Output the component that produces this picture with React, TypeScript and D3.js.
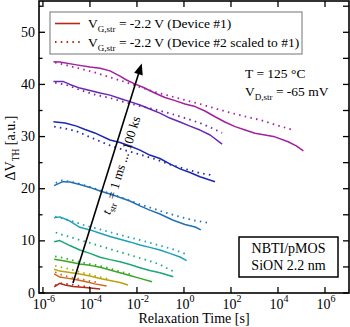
import React from "react";
import * as d3 from "d3";

type Pt = [number, number];

// relaxation time [s], ΔV_TH [a.u.]
const solid1: Pt[] = [[3e-6, 1.2], [5.2e-6, 1.85], [8.7e-6, 1.55], [1.9e-5, 1.25], [6.2e-5, 1.05], [2.7e-4, 0.75]];
const dotted1: Pt[] = [[3.3e-6, 1.45], [6.5e-6, 1.9], [1.4e-5, 1.65], [3.7e-5, 1.35], [1e-4, 1.15]];
const solid2: Pt[] = [[3e-6, 3.65], [5.2e-6, 3.05], [8.7e-6, 2.9], [2.1e-5, 2.65], [6.2e-5, 2.2], [1.6e-4, 1.75], [5.1e-4, 1.35]];
const dotted2: Pt[] = [[3.3e-6, 4.0], [6.5e-6, 3.45], [1.4e-5, 3.0], [3.7e-5, 2.7], [1e-4, 2.3], [2.7e-4, 1.9]];
const solid3: Pt[] = [[3e-6, 4.55], [5.2e-6, 4.2], [1.4e-5, 3.95], [3.7e-5, 3.65], [1e-4, 3.25], [2.7e-4, 2.8], [7.1e-4, 2.4], [1.9e-3, 2.0], [4.2e-3, 1.55]];
const dotted3: Pt[] = [[3.3e-6, 5.2], [6.5e-6, 4.9], [1.4e-5, 4.6], [3.7e-5, 4.0], [1e-4, 3.55], [2.7e-4, 3.05], [7.1e-4, 2.6]];
const solid4: Pt[] = [[3e-6, 6.45], [6.5e-6, 6.25], [1.4e-5, 5.95], [3.7e-5, 5.55], [1e-4, 5.3], [2.7e-4, 4.95], [7.1e-4, 4.4], [1.9e-3, 3.9], [5e-3, 3.35], [1.35e-2, 2.8], [4.4e-2, 2.15]];
const dotted4: Pt[] = [[3.3e-6, 7.0], [6.5e-6, 6.8], [1.4e-5, 6.4], [3.7e-5, 5.95], [1e-4, 5.55], [2.7e-4, 5.2], [7.1e-4, 4.7], [1.9e-3, 4.1], [5e-3, 3.65]];
const solid5: Pt[] = [[3e-6, 9.85], [5.2e-6, 10.05], [1.4e-5, 9.1], [3.7e-5, 8.25], [1e-4, 7.6], [2.7e-4, 6.85], [7.1e-4, 6.4], [1.9e-3, 6.0], [5e-3, 5.45], [1.35e-2, 4.85], [3.5e-2, 4.3], [9.5e-2, 3.9], [0.35, 3.1]];
const dotted5: Pt[] = [[3.5e-6, 11.6], [6.5e-6, 11.2], [1.4e-5, 10.75], [3.7e-5, 10.15], [1e-4, 9.6], [2.7e-4, 9.0], [7.1e-4, 8.45], [1.9e-3, 7.85], [5e-3, 7.3], [1.35e-2, 6.7], [3.5e-2, 6.15], [9.5e-2, 5.45], [0.2, 4.7], [0.42, 4.0]];
const solid6: Pt[] = [[3e-6, 14.45], [5.2e-6, 14.6], [1.4e-5, 13.8], [3.7e-5, 12.6], [1e-4, 12.1], [2.7e-4, 11.45], [7.1e-4, 10.85], [1.9e-3, 10.3], [5e-3, 9.8], [1.35e-2, 9.2], [3.5e-2, 8.75], [9.5e-2, 8.25], [0.25, 7.6], [0.68, 6.9], [1.3, 6.2]];
const dotted6: Pt[] = [[3.3e-6, 14.65], [8.7e-6, 14.2], [2.3e-5, 13.6], [6.2e-5, 12.95], [2.7e-4, 12.2], [1.2e-3, 11.4], [5e-3, 10.65], [2.2e-2, 9.9], [9.5e-2, 9.1], [0.42, 8.25], [1.35, 7.4]];
const solid7: Pt[] = [[3e-6, 20.6], [7e-6, 21.35], [1.4e-5, 21.3], [3.7e-5, 20.8], [1e-4, 20.25], [2.7e-4, 19.55], [7.1e-4, 19.0], [1.9e-3, 18.3], [5e-3, 17.65], [1.35e-2, 16.7], [3.5e-2, 15.9], [9.5e-2, 15.15], [0.33, 14.0], [1.1, 13.15], [3, 12.65], [5.2, 12.1]];
const dotted7: Pt[] = [[3.5e-6, 21.1], [6.5e-6, 21.6], [2.3e-5, 21.2], [1e-4, 20.35], [4.3e-4, 19.4], [1.9e-3, 18.4], [8e-3, 17.35], [3.5e-2, 16.4], [0.155, 15.45], [0.68, 14.6], [3, 13.9], [13, 13.4]];
const solid8: Pt[] = [[2.8e-6, 32.85], [8.7e-6, 32.6], [2.7e-5, 32.0], [6.2e-5, 31.35], [1.6e-4, 30.7], [7.1e-4, 29.35], [1.9e-3, 28.85], [5e-3, 28.2], [1.35e-2, 27.4], [3.5e-2, 26.45], [9.5e-2, 25.8], [0.25, 24.75], [0.68, 23.8], [1.8, 23.1], [4.8, 22.3], [21, 21.35]];
const dotted8: Pt[] = [[3e-6, 31.9], [8.7e-6, 31.55], [2.6e-5, 31.05], [1e-4, 29.9], [7.1e-4, 28.3], [3e-3, 27.4], [1.35e-2, 26.55], [5.7e-2, 25.7], [0.25, 24.65], [1.1, 23.8], [4.8, 23.0], [17, 22.55]];
const solid9: Pt[] = [[2.8e-6, 40.55], [7.5e-6, 40.55], [1.4e-5, 40.0], [3.7e-5, 39.3], [1e-4, 38.85], [2.7e-4, 38.35], [7.1e-4, 37.95], [1.9e-3, 37.3], [5e-3, 36.7], [1.35e-2, 36.05], [3.5e-2, 35.3], [9.5e-2, 34.5], [0.25, 33.55], [0.68, 32.8], [1.8, 32.0], [4.8, 31.25], [13, 30.3], [42, 28.55]];
const dotted9: Pt[] = [[3.3e-6, 40.3], [8.7e-6, 40.0], [3.7e-5, 38.95], [1.6e-4, 38.05], [7.1e-4, 37.4], [3e-3, 36.6], [1.35e-2, 35.85], [5.7e-2, 35.2], [0.25, 34.45], [1.1, 33.55], [4.8, 32.6], [15, 31.65], [42, 30.7]];
const solid10: Pt[] = [[2.8e-6, 44.35], [5.2e-6, 44.3], [2.7e-5, 43.75], [1e-4, 43.35], [2.7e-4, 43.1], [7.1e-4, 42.6], [1.9e-3, 41.6], [3.6e-3, 40.85], [8e-3, 40.1], [1.8e-2, 39.45], [5.7e-2, 38.35], [0.155, 37.5], [0.42, 36.9], [1.1, 36.25], [3, 35.75], [7.8, 34.9], [21, 33.8], [55, 32.8], [150, 31.9], [400, 31.25], [1050, 30.65], [2800, 30.3], [7400, 29.95], [27000, 29.0], [60000, 28.2], [120000, 27.25]];
const dotted10: Pt[] = [[3.3e-6, 44.2], [8.7e-6, 43.75], [2.3e-5, 43.25], [6.2e-5, 42.8], [1.6e-4, 42.3], [4.3e-4, 41.7], [1.2e-3, 41.05], [3e-3, 40.5], [1.35e-2, 39.5], [5.7e-2, 38.55], [0.25, 37.8], [1.1, 37.0], [4.8, 36.25], [21, 35.4], [90, 34.6], [400, 33.85], [1700, 33.2], [7400, 32.3], [44000, 31.25]];

const seriesColors = ["#b22a1a", "#c96a1e", "#b8a40c", "#3ba626", "#1aa872", "#1fa0b6", "#2070b8", "#1a28b0", "#6a28b0", "#a3209e"];
const solidSeries = [solid1, solid2, solid3, solid4, solid5, solid6, solid7, solid8, solid9, solid10];
const dottedSeries = [dotted1, dotted2, dotted3, dotted4, dotted5, dotted6, dotted7, dotted8, dotted9, dotted10];

const xTickExps = [-6, -4, -2, 0, 2, 4, 6];
const yMajorTicks = [0, 10, 20, 30, 40, 50];
const yMinorTicks = [5, 15, 25, 35, 45, 55];

const legendLabels = ["(Device #1)", "(Device #2 scaled to #1)"];
const arrowFrom: Pt = [1.9e-5, 1.9];
const arrowTo: Pt = [1.6e-2, 44];

const W = 350, H = 327;
const L = 39, R = 349, T = 1, B = 293;
const FONT = "Liberation Serif, Times New Roman, Times, serif";

export default function App() {
  const x = d3.scaleLog().domain([6.8e-7, 1.05e7]).range([L, R]);
  const y = d3.scaleLinear().domain([0, 56]).range([B, T]);
  const line = d3.line<Pt>().x(d => x(d[0])).y(d => y(d[1]));

  const ax0 = x(arrowFrom[0]), ay0 = y(arrowFrom[1]);
  const ax1 = x(arrowTo[0]), ay1 = y(arrowTo[1]);
  const len = Math.hypot(ax1 - ax0, ay1 - ay0);
  const ux = (ax1 - ax0) / len, uy = (ay1 - ay0) / len;
  const nx = -uy, ny = ux; // right-hand normal
  const headL = 11, headW = 4.5;
  const bx = ax1 - ux * headL, by = ay1 - uy * headL;
  const angle = (Math.atan2(uy, ux) * 180) / Math.PI;
  const tf = 0.33;
  const tx = ax0 + ux * len * tf + nx * 15, ty = ay0 + uy * len * tf + ny * 15;

  const txt = { fontFamily: FONT };

  return (
    <svg width={W} height={H} style={{ position: "absolute", left: 0, top: 0, background: "#fff", fontFamily: FONT }}>
      <rect x={0} y={0} width={W} height={H} fill="#fff" />
      {dottedSeries.map((s, i) => (
        <path key={"d" + i} d={line(s) || ""} fill="none" stroke={seriesColors[i]} strokeWidth={1.8} strokeDasharray="1.5,4.3" />
      ))}
      {solidSeries.map((s, i) => (
        <path key={"s" + i} d={line(s) || ""} fill="none" stroke={seriesColors[i]} strokeWidth={1.5} strokeLinejoin="round" />
      ))}
      <rect x={L} y={T} width={R - L} height={B - T} fill="none" stroke="#000" strokeWidth={1.6} />
      {xTickExps.map(e => {
        const px = x(Math.pow(10, e));
        return (
          <g key={"x" + e}>
            <line x1={px} x2={px} y1={B} y2={B - 6} stroke="#000" strokeWidth={1.3} />
            <line x1={px} x2={px} y1={T} y2={T + 6} stroke="#000" strokeWidth={1.3} />
            <text style={txt} x={px + 1} y={309} textAnchor="middle" fontSize={14}>
              10<tspan dy={-7} fontSize={10}>{e}</tspan>
            </text>
          </g>
        );
      })}
      {yMajorTicks.map(v => (
        <g key={"y" + v}>
          <line x1={L} x2={L + 6} y1={y(v)} y2={y(v)} stroke="#000" strokeWidth={1.3} />
          <line x1={R} x2={R - 6} y1={y(v)} y2={y(v)} stroke="#000" strokeWidth={1.3} />
          <text style={txt} x={35} y={y(v) + 4.5} textAnchor="end" fontSize={14}>{v}</text>
        </g>
      ))}
      {yMinorTicks.map(v => (
        <g key={"ym" + v}>
          <line x1={L} x2={L + 3.5} y1={y(v)} y2={y(v)} stroke="#000" strokeWidth={1.3} />
          <line x1={R} x2={R - 6} y1={y(v)} y2={y(v)} stroke="#000" strokeWidth={1.3} />
        </g>
      ))}
      <text style={txt} x={194} y={323} textAnchor="middle" fontSize={14}>Relaxation Time  [s]</text>
      <text style={txt} transform={`translate(15,148) rotate(-90)`} textAnchor="middle" fontSize={14}>
        ΔV<tspan dy={4} fontSize={9.5}>TH</tspan><tspan dy={-4}> [a.u.]</tspan>
      </text>
      <rect x={50} y={12} width={252} height={42} fill="#fff" stroke="#8a8a8a" strokeWidth={1.2} />
      <line x1={55} x2={80} y1={23.5} y2={23.5} stroke={seriesColors[0]} strokeWidth={1.6} />
      <line x1={55} x2={81} y1={42} y2={42} stroke={seriesColors[0]} strokeWidth={1.8} strokeDasharray="1.5,4.3" />
      {legendLabels.map((lab, i) => (
        <text style={txt} key={"l" + i} x={88} y={28 + i * 18.5} fontSize={13.5}>
          V<tspan dy={4} fontSize={9}>G,str</tspan><tspan dy={-4}>{` = -2.2 V ${lab}`}</tspan>
        </text>
      ))}
      <text style={txt} x={245} y={78} fontSize={13.5}>T = 125 °C</text>
      <text style={txt} x={245} y={96} fontSize={13.5}>
        V<tspan dy={4} fontSize={9}>D,str</tspan><tspan dy={-4}> = -65 mV</tspan>
      </text>
      <rect x={239} y={237} width={99} height={40} fill="#fff" stroke="#000" strokeWidth={1.5} />
      <text style={txt} x={288.5} y={252.5} textAnchor="middle" fontSize={14}>NBTI/pMOS</text>
      <text style={txt} x={288.5} y={270} textAnchor="middle" fontSize={14}>SiON 2.2 nm</text>
      <line x1={ax0} y1={ay0} x2={bx} y2={by} stroke="#000" strokeWidth={1.6} />
      <polygon
        points={`${ax1},${ay1} ${bx + nx * headW},${by + ny * headW} ${bx - nx * headW},${by - ny * headW}`}
        fill="#000"
      />
      <text style={txt} transform={`translate(${tx},${ty}) rotate(${angle})`} fontSize={13}>
        <tspan fontStyle="italic">t</tspan><tspan dy={3.5} fontSize={9}>str</tspan><tspan dy={-3.5}> = 1 ms ... 100 ks</tspan>
      </text>
    </svg>
  );
}
